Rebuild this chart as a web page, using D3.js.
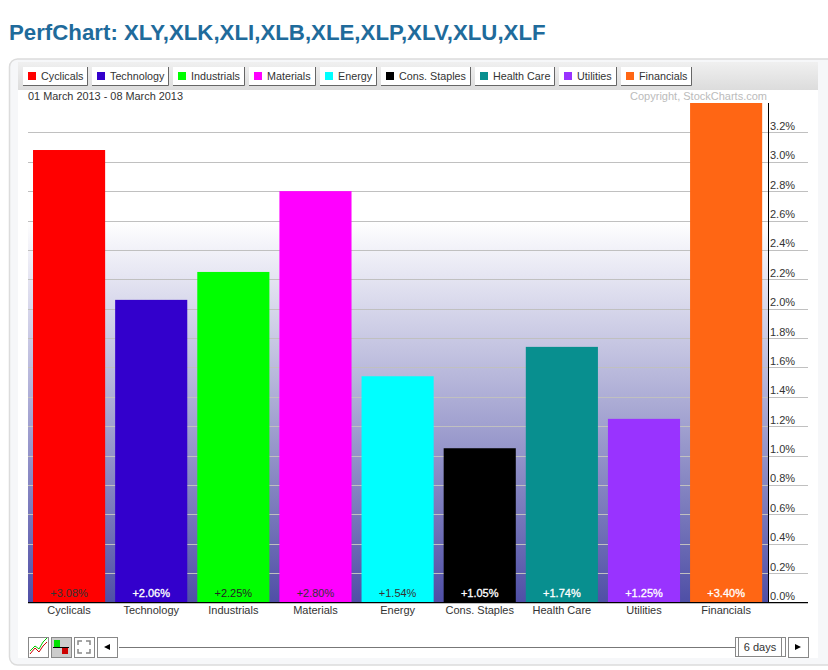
<!DOCTYPE html>
<html><head><meta charset="utf-8">
<script src="https://cdn.jsdelivr.net/npm/d3@7/dist/d3.min.js"></script>
<style>html,body{margin:0;padding:0;background:#fff}svg{display:block}text{font-family:"Liberation Sans",Arial,sans-serif}</style>
</head><body><div id="c"></div>
<script>
const categories=["Cyclicals","Technology","Industrials","Materials","Energy","Cons. Staples","Health Care","Utilities","Financials"];
const values=[3.08,2.06,2.25,2.80,1.54,1.05,1.74,1.25,3.40];
const colors=["#ff0000","#3300cc","#00ff00","#ff00ff","#00ffff","#000000","#088f8f","#9933ff","#ff6614"];
const labelColors=["#333","#fff","#222","#333","#333","#fff","#fff","#fff","#fff"];
const yTicks=[0,0.2,0.4,0.6,0.8,1.0,1.2,1.4,1.6,1.8,2.0,2.2,2.4,2.6,2.8,3.0,3.2];
const title="PerfChart: XLY,XLK,XLI,XLB,XLE,XLP,XLV,XLU,XLF";
const dateRange="01 March 2013 - 08 March 2013";
const copyright="Copyright, StockCharts.com";
const rangeLabel="6 days";

const W=828,H=670,FS=11;
const svg=d3.select("#c").append("svg").attr("width",W).attr("height",H);
const defs=svg.append("defs");
const g=defs.append("linearGradient").attr("id","bg").attr("x1",0).attr("x2",0).attr("y1",0).attr("y2",1);
g.append("stop").attr("offset",0).attr("stop-color","#ffffff");
g.append("stop").attr("offset",1).attr("stop-color","#4f4fa6");
const tb=defs.append("linearGradient").attr("id","tb").attr("x1",0).attr("x2",0).attr("y1",0).attr("y2",1);
tb.append("stop").attr("offset",0).attr("stop-color","#f0f0f0");
tb.append("stop").attr("offset",1).attr("stop-color","#dcdcdc");

svg.append("text").attr("x",9).attr("y",40).attr("font-size",22.25).attr("font-weight","bold").attr("fill","#1f6b9b").text(title);

// panel
svg.append("rect").attr("x",9.5).attr("y",59).attr("width",840).attr("height",606).attr("rx",8).attr("fill","#f6f7f9").attr("stroke","#dcdcdc").attr("stroke-width",1.5);
svg.append("rect").attr("x",18).attr("y",62).attr("width",800).attr("height",596).attr("fill","#fff");
svg.append("rect").attr("x",18).attr("y",62).attr("width",800).attr("height",28).attr("fill","url(#tb)");

const plotL=28,plotR=768,gridR=808;
const x=d3.scaleBand().domain(categories).range([plotL-0.4,plotR-0.4]).paddingInner(0.122).paddingOuter(0.066);
const y=d3.scaleLinear().domain([0,3.4]).range([602.5,103]);

svg.append("rect").attr("x",plotL).attr("y",y(2.6)).attr("width",plotR-plotL).attr("height",y(0)-y(2.6)).attr("fill","url(#bg)");

svg.append("g").selectAll("line").data(yTicks).join("line")
 .attr("x1",plotL).attr("x2",gridR).attr("y1",d=>Math.round(y(d))+.5).attr("y2",d=>Math.round(y(d))+.5)
 .attr("stroke","#c0c0c0");

svg.append("g").selectAll("rect").data(values).join("rect")
 .attr("x",(d,i)=>x(categories[i])).attr("width",x.bandwidth())
 .attr("y",d=>y(d)).attr("height",d=>y(0)-y(d)).attr("fill",(d,i)=>colors[i]);

svg.append("g").selectAll("text").data(values).join("text")
 .attr("x",(d,i)=>x(categories[i])+x.bandwidth()/2).attr("y",597).attr("text-anchor","middle")
 .attr("font-size",FS).attr("fill",(d,i)=>labelColors[i])
 .attr("stroke",(d,i)=>labelColors[i]==="#fff"?"#fff":"none").attr("stroke-width",0.3)
 .text(d=>"+"+d.toFixed(2)+"%");

// axes
const yAxis=d3.axisRight(y).tickValues(yTicks).tickSize(0).tickFormat(d=>d.toFixed(1)+"%");
const ya=svg.append("g").attr("transform",`translate(${plotR},0)`).call(yAxis);
ya.select(".domain").remove();
ya.selectAll("text").attr("x",2).attr("dy",0).attr("y",-3).attr("font-size",FS).attr("fill","#333").style("font-family",'"Liberation Sans"');
svg.append("line").attr("x1",plotR+.5).attr("x2",plotR+.5).attr("y1",y(3.4)).attr("y2",y(0)).attr("stroke","#000");
svg.append("line").attr("x1",plotL).attr("x2",gridR).attr("y1",602.5).attr("y2",602.5).attr("stroke","#000");

const xAxis=d3.axisBottom(x).tickSize(0);
const xa=svg.append("g").attr("transform","translate(0,602)").call(xAxis);
xa.select(".domain").remove();
xa.selectAll("text").attr("y",4).attr("dy","0.75em").attr("font-size",FS).attr("fill","#333").style("font-family",'"Liberation Sans"');

svg.append("text").attr("x",28).attr("y",100).attr("font-size",FS-0.1).attr("fill","#333").text(dateRange);
svg.append("text").attr("x",767).attr("y",100).attr("text-anchor","end").attr("font-size",FS).attr("fill","#bbb").text(copyright);

// legend
let lx=23;
categories.forEach((c,i)=>{
  const b=svg.append("g").attr("transform",`translate(${lx},67)`);
  const r=b.append("rect").attr("y",0).attr("height",18).attr("fill","#fff");
  b.append("rect").attr("x",5).attr("y",5).attr("width",8).attr("height",8).attr("fill",colors[i]);
  const t=b.append("text").attr("x",18).attr("y",13).attr("font-size",10.75).attr("fill","#333").text(c);
  const w=Math.round(t.node().getComputedTextLength())+23;
  r.attr("width",w);
  b.append("path").attr("d",`M${w-.5},0V18.5H0`).attr("fill","none").attr("stroke","#666");
  lx+=w+4;
});

// controls
function btn(px,py,w,h,fill){return svg.append("rect").attr("x",px+.5).attr("y",py+.5).attr("width",w).attr("height",h).attr("fill",fill||"#fff").attr("stroke","#888");}
btn(28,637,20,20);
svg.append("path").attr("d","M30,651 L35,646 L39,649 L43,642 L47,638").attr("fill","none").attr("stroke","#0c0");
svg.append("path").attr("d","M30,654 L35,648 L39,652 L43,646 L47,642").attr("fill","none").attr("stroke","#c00");
btn(51,637,20,20,"#ccc");
svg.append("rect").attr("x",54).attr("y",640).attr("width",6).attr("height",7).attr("fill","#00e000");
svg.append("rect").attr("x",62).attr("y",647).attr("width",6).attr("height",7).attr("fill","#c00");
svg.append("line").attr("x1",53).attr("x2",69).attr("y1",647.5).attr("y2",647.5).attr("stroke","#000");
btn(74,637,20,20);
svg.append("path").attr("d","M78,645V641H82M86,641H90V645M90,649V653H86M82,653H78V649").attr("fill","none").attr("stroke","#888").attr("stroke-width",1.5);
btn(97,637,20,20);
svg.append("path").attr("d","M104,647L110,644V650Z").attr("fill","#000");
svg.append("line").attr("x1",119).attr("x2",736).attr("y1",647.5).attr("y2",647.5).attr("stroke","#777");
btn(735,637,50,19);
svg.append("path").attr("d","M738.5,637.5V656.5M781.5,637.5V656.5").attr("stroke","#888");
svg.append("text").attr("x",760).attr("y",651).attr("text-anchor","middle").attr("font-size",FS).attr("fill","#333").text(rangeLabel);
btn(788,637,20,20);
svg.append("path").attr("d","M801,647L795,644V650Z").attr("fill","#000");
</script></body></html>
